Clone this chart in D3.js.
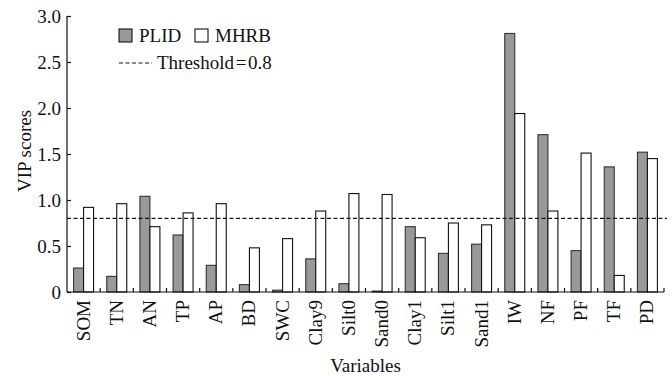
<!DOCTYPE html>
<html>
<head>
<meta charset="utf-8">
<script src="https://cdn.jsdelivr.net/npm/d3@7"></script>
<style>
  body { margin: 0; background: #fff; }
  svg text { font-family: "Liberation Serif", "Times New Roman", serif; fill: #111; }
</style>
</head>
<body>
<svg id="chart"></svg>
<script>
const variables = ['SOM', 'TN', 'AN', 'TP', 'AP', 'BD', 'SWC', 'Clay9', 'Silt0', 'Sand0',
  'Clay1', 'Silt1', 'Sand1', 'IW', 'NF', 'PF', 'TF', 'PD'];
const plid = [0.26, 0.17, 1.04, 0.62, 0.29, 0.08, 0.02, 0.36, 0.09, 0.01,
  0.71, 0.42, 0.52, 2.81, 1.71, 0.45, 1.36, 1.52];
const mhrb = [0.92, 0.96, 0.71, 0.86, 0.96, 0.48, 0.58, 0.88, 1.07, 1.06,
  0.59, 0.75, 0.73, 1.94, 0.88, 1.51, 0.18, 1.45];
const seriesNames = ['PLID', 'MHRB'];
const yTicks = [0, 0.5, 1.0, 1.5, 2.0, 2.5, 3.0];
const threshold = 0.8;

const width = 672, height = 376;
const margin = {top: 16, right: 8, bottom: 84, left: 67};
const fontSize = '19px';

const svg = d3.select('#chart').attr('width', width).attr('height', height);

const x0 = d3.scaleBand()
  .domain(variables)
  .range([margin.left, width - margin.right])
  .paddingInner(0).paddingOuter(0);

const x1 = d3.scaleBand()
  .domain(seriesNames)
  .range([0, x0.bandwidth()])
  .paddingInner(0).paddingOuter(0.66);

const y = d3.scaleLinear()
  .domain([0, 3])
  .range([height - margin.bottom, margin.top]);

const rows = variables.map((v, i) => ({name: v, PLID: plid[i], MHRB: mhrb[i]}));
const fills = {PLID: '#999999', MHRB: '#ffffff'};

// bars
const groups = svg.append('g').selectAll('g')
  .data(rows)
  .join('g')
  .attr('transform', d => `translate(${x0(d.name)},0)`);

groups.selectAll('rect')
  .data(d => seriesNames.map(s => ({key: s, value: d[s]})))
  .join('rect')
  .attr('x', d => x1(d.key))
  .attr('y', d => y(d.value))
  .attr('width', x1.bandwidth())
  .attr('height', d => y(0) - y(d.value))
  .attr('fill', d => fills[d.key])
  .attr('stroke', d => d.key === 'PLID' ? '#333' : '#111')
  .attr('stroke-width', 1.1);

// threshold line
svg.append('line')
  .attr('x1', margin.left).attr('x2', width - margin.right + 3)
  .attr('y1', y(threshold)).attr('y2', y(threshold))
  .attr('stroke', '#111').attr('stroke-width', 1.2)
  .attr('stroke-dasharray', '4,2.5');

// y axis
const yAxis = d3.axisRight(y)
  .tickValues(yTicks)
  .tickSize(4)
  .tickFormat(d => d === 0 ? '0' : d3.format('.1f')(d));

const yAxisG = svg.append('g')
  .attr('transform', `translate(${margin.left},0)`)
  .call(yAxis);
yAxisG.select('.domain').attr('stroke', '#111').attr('stroke-width', 1.2).attr('d', `M0,${y(3)}V${y(0)}`);
yAxisG.selectAll('.tick line').attr('stroke', '#111').attr('stroke-width', 1.2);
yAxisG.selectAll('.tick text')
  .attr('x', -6).attr('text-anchor', 'end')
  .style('font-size', fontSize).style('font-family', '"Liberation Serif", serif');

// x axis (ticks between categories, pointing up)
const xAxisY = y(0);
svg.append('line')
  .attr('x1', margin.left).attr('x2', width - margin.right)
  .attr('y1', xAxisY).attr('y2', xAxisY)
  .attr('stroke', '#111').attr('stroke-width', 1.2);

svg.append('g').selectAll('line')
  .data(variables)
  .join('line')
  .attr('x1', d => x0(d) + x0.bandwidth()).attr('x2', d => x0(d) + x0.bandwidth())
  .attr('y1', xAxisY).attr('y2', xAxisY - 4)
  .attr('stroke', '#111').attr('stroke-width', 1.2);

svg.append('g').selectAll('text')
  .data(variables)
  .join('text')
  .attr('transform', d => `translate(${x0(d) + x0.bandwidth() / 2 + 6},${xAxisY + 8}) rotate(-90)`)
  .attr('text-anchor', 'end')
  .style('font-size', fontSize)
  .text(d => d);

// axis titles
svg.append('text')
  .attr('transform', 'translate(31,151) rotate(-90)')
  .attr('text-anchor', 'middle')
  .style('font-size', fontSize)
  .text('VIP scores');

svg.append('text')
  .attr('x', (margin.left + width - margin.right) / 2)
  .attr('y', 372)
  .attr('text-anchor', 'middle')
  .style('font-size', fontSize)
  .text('Variables');

// legend
const legend = svg.append('g');
const legendX = [119, 195];
seriesNames.forEach((s, i) => {
  legend.append('rect')
    .attr('x', legendX[i]).attr('y', 29)
    .attr('width', 13).attr('height', 13)
    .attr('fill', fills[s])
    .attr('stroke', '#111').attr('stroke-width', 1.1);
  legend.append('text')
    .attr('x', legendX[i] + 20).attr('y', 42)
    .style('font-size', fontSize)
    .text(s);
});
legend.append('line')
  .attr('x1', 119).attr('x2', 152)
  .attr('y1', 63).attr('y2', 63)
  .attr('stroke', '#111').attr('stroke-width', 1.2)
  .attr('stroke-dasharray', '4,2.5');
legend.append('text')
  .attr('x', 157).attr('y', 69)
  .style('font-size', fontSize)
  .text('Threshold\u200A=\u200A0.8');
</script>
</body>
</html>
